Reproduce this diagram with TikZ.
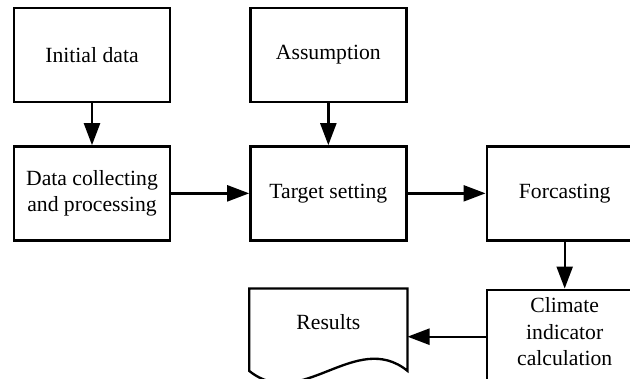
\documentclass[tikz,border=0pt]{standalone}
\usepackage{fontspec}
\setmainfont{Liberation Serif}
\usetikzlibrary{arrows.meta}
\usetikzlibrary{positioning}

\begin{document}
\begin{tikzpicture}[
  ->, >={Triangle[length=6.6mm,width=4.8mm]}, node distance=12.6mm and 23.4mm,
  line width=2pt,
  every node/.style={font=\fontsize{18.5}{22.5}\selectfont},
  stage/.style={rectangle,draw,minimum width=46.8mm,minimum height=28.2mm,
    inner sep=1mm,align=center}
]
\useasboundingbox (-27.6mm,16.5mm) rectangle (161.4mm,-96.9mm);

% --- Stages ---
\node[stage] (init) {Initial data};
\node[stage,below=of init] (data) {Data collecting\\and processing};
\node[stage,right=of data] (target) {Target setting};
\node[stage,above=of target] (assum) {Assumption};
\node[stage,right=of target] (fore) {Forcasting};
\node[stage,text depth=3mm,below=14.1mm of fore] (clim) {Climate\\indicator\\calculation};
\node[stage,draw=none,text depth=8.6mm,below=14.1mm of target] (res) {Results};

% --- Document outline of the results ---
\draw[-] (res.north west) -- (res.north east) -- ([yshift=4.2mm]res.south east)
  .. controls +(-15.6mm,12.6mm) and +(15.6mm,-12.6mm) .. ([yshift=4.2mm]res.south west)
  -- cycle;

% --- Flow ---
\path
  (init) edge (data)
  (assum) edge (target)
  (data) edge (target)
  (target) edge (fore)
  (fore) edge (clim)
  (clim) edge (res);

\end{tikzpicture}
\end{document}
